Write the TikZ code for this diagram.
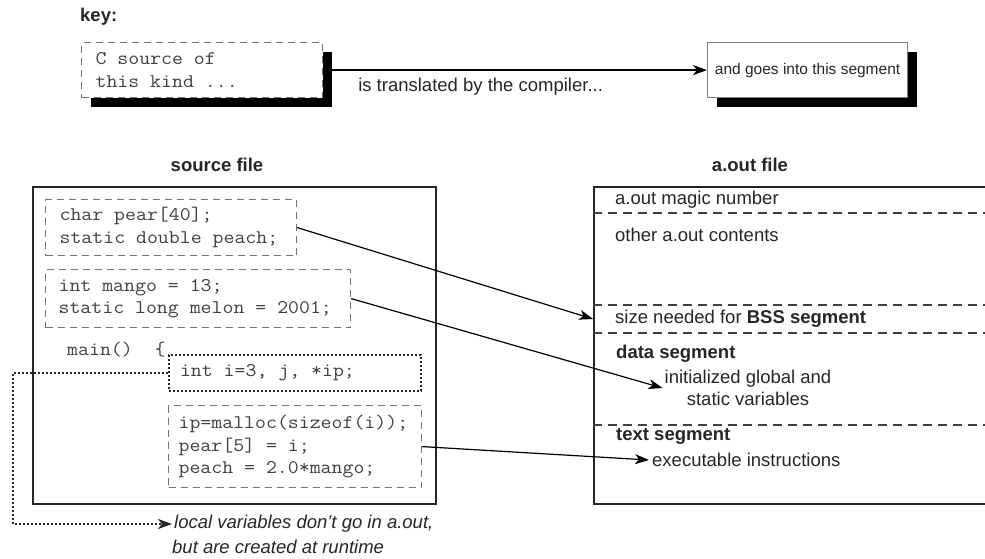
\documentclass[tikz,border=0pt]{standalone}
\usepackage{fontspec}
\setmainfont{Liberation Sans}
\newfontfamily\codefont{Latin Modern Mono}[FakeStretch=1.1]
\usetikzlibrary{positioning,arrows.meta,shadows}

\begin{document}
\begin{tikzpicture}[
    x=1pt, y=-1pt,
    every node/.style={font=\fontsize{18.5}{22}\selectfont, text=black!85},
    lbl/.style={anchor=west, inner sep=0pt},
    title/.style={font=\bfseries\fontsize{18.5}{22}\selectfont},
    codebox/.style={draw=black!55, line width=1.2pt, dash pattern=on 7pt off 5pt, fill=white,
        anchor=north west, align=left, text=black!75, font=\codefont\fontsize{19.3}{22.5}\selectfont,
        execute at begin node={\frenchspacing\spaceskip=0pt\xspaceskip=0pt\relax}},
    dotbox/.style={codebox, draw=black!85, line width=2pt, dash pattern=on 2pt off 2pt},
    keyshadow/.style={drop shadow={fill=black, opacity=1, shadow xshift=9pt, shadow yshift=-9pt}},
    filebox/.style={draw=black!85, line width=2.4pt, anchor=north west, inner sep=0pt},
    segline/.style={draw=black!75, line width=2.2pt, dash pattern=on 9pt off 6pt},
    conn/.style={draw=black, line width=1.2pt, -{Stealth[length=14pt, width=10pt, inset=4pt]}},
    dotconn/.style={conn, draw=black!85, line width=2pt, dash pattern=on 2pt off 2pt}
    ]
        \useasboundingbox (0,0) rectangle (985,559);

        %Key
        \node[title, anchor=west, inner sep=0pt] (keytitle) at (80,17) {key:};
        \node[codebox, keyshadow, text width=213, inner xsep=14, minimum height=55]
            (srckey) at (81,42) {C source of\\this kind ...};
        \node[draw=black!50, line width=1.2pt, fill=white, keyshadow, anchor=north west,
            minimum width=200, minimum height=55, font=\fontsize{15.5}{19}\selectfont]
            (segkey) at (707,42) {and goes into this segment};

        %Source file
        \node[title] (srctitle) at (217,165) {source file};
        \node[filebox, minimum width=403, minimum height=317] (src) at (32,186) {};
        \node[codebox, text width=223, inner xsep=14, minimum height=56]
            (pear) at (45,199) {char pear[40];\\static double peach;};
        \node[codebox, text width=279, inner xsep=13, minimum height=58]
            (mango) at (45,269) {int mango = 13;\\static long melon = 2001;};
        \node[lbl, text=black!75, font=\codefont\fontsize{19.3}{22.5}\selectfont]
            (mainfn) at (67,350) {main()~~\{};
        \node[dotbox, text width=230, inner xsep=11, minimum height=36]
            (decl) at (168,354) {int i=3, j, *ip;};
        \node[codebox, text width=233, inner xsep=10, minimum height=82]
            (body) at (168,405) {ip=malloc(sizeof(i));\\pear[5] = i;\\peach = 2.0*mango;};
        \node[lbl, inner sep=2pt, font=\itshape\fontsize{18.5}{22}\selectfont]
            (local1) at (172,524) {local variables don't go in a.out,};
        \node[lbl, font=\itshape\fontsize{18.5}{22}\selectfont,
            below=4.8pt of local1.south west, anchor=north west]
            (local2) {but are created at runtime};

        %a.out file
        \node[title] (aouttitle) at (750,165) {a.out file};
        \node[filebox, minimum width=400, minimum height=317] (aout) at (593,186) {};
        \foreach \y in {213,305,333,425}
            \draw[segline] (aout.west |- 0,\y) -- (aout.east |- 0,\y);
        \node[lbl] (magic) at (615,200) {a.out magic number};
        \node[lbl] (other) at (615,235) {other a.out contents};
        \node[lbl] (bss) at (615,319) {size needed for \textbf{BSS segment}};
        \node[lbl, font=\bfseries\fontsize{18.5}{22}\selectfont] (dataseg) at (616,354) {data segment};
        \node[align=center, inner sep=2pt] (init) at (748,388) {initialized global and\\static variables};
        \node[lbl, font=\bfseries\fontsize{18.5}{22}\selectfont] (textseg) at (616,436) {text segment};
        \node[lbl, inner sep=3pt] (exec) at (649,460) {executable instructions};

        %Lines
        \draw[conn] ([xshift=9pt]srckey.east) --
            node[below=4pt, pos=0.396] (compiler) {is translated by the compiler...} (segkey.west);
        \draw[conn] (pear.east) -- (aout.west |- bss.west);
        \draw[conn] (mango.east) -- (init.west);
        \draw[conn] (body.east) -- (exec.west);
        \draw[dotconn] (decl.west) -- ++(-155,0) |- (local1.west);
    \end{tikzpicture}
\end{document}
